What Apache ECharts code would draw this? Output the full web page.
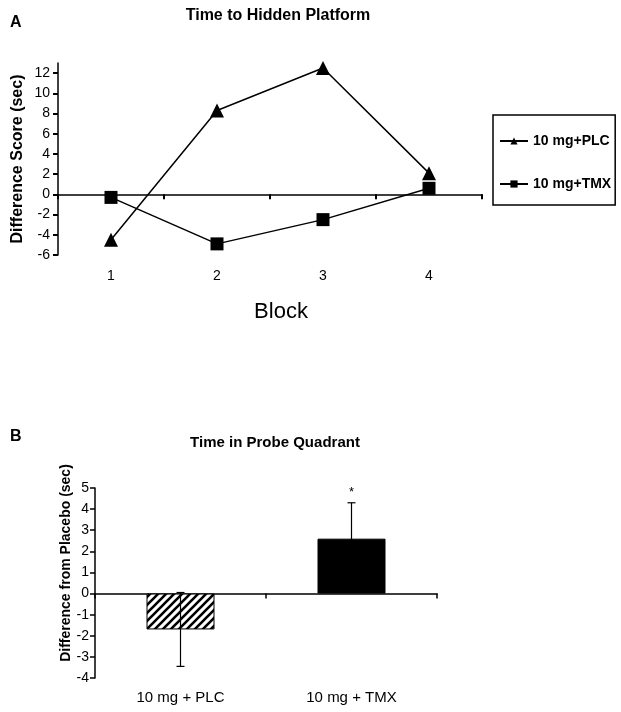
<!DOCTYPE html>
<html><head><meta charset="utf-8">
<script src="https://cdn.jsdelivr.net/npm/echarts@6/dist/echarts.min.js"></script>
<style>html,body{margin:0;padding:0;background:#fff}#c{width:621px;height:712px}</style>
</head><body><div id="c"></div>
<script>
// Panel A data
const blocks = ['1', '2', '3', '4'];
const plcScores = [-4.5, 8.3, 12.5, 2.1];
const tmxScores = [-0.3, -4.9, -2.5, 0.6];
const scoreTicks = [-6, -4, -2, 0, 2, 4, 6, 8, 10, 12];
// Panel B data
const groups = ['10 mg + PLC', '10 mg + TMX'];
const probeDiff = [-1.7, 2.6];
const probeErr = [1.75, 1.7];
const probeMarks = ['', '*'];
const probeTicks = [-4, -3, -2, -1, 0, 1, 2, 3, 4, 5];

const FONT = '"Liberation Sans", Arial, sans-serif';

function hatch() {
  const c = document.createElement('canvas');
  c.width = 8; c.height = 8;
  const g = c.getContext('2d');
  g.fillStyle = '#fff'; g.fillRect(0, 0, 8, 8);
  g.strokeStyle = '#000'; g.lineWidth = 2.6;
  g.beginPath();
  g.moveTo(-2, 10); g.lineTo(10, -2);
  g.moveTo(-4, 4); g.lineTo(4, -4);
  g.moveTo(4, 12); g.lineTo(12, 4);
  g.stroke();
  return c;
}

const chart = echarts.init(document.getElementById('c'), null, {renderer: 'canvas'});
const axisLine = {lineStyle: {color: '#000', width: 1.5}};
const tickLab = {color: '#000', fontFamily: FONT, fontSize: 14};

chart.setOption({
  backgroundColor: '#fff',
  animation: false,
  title: [
    {text: 'A', left: 5, top: 10, textStyle: {fontFamily: FONT, fontWeight: 'bold', fontSize: 16, color: '#000'}},
    {text: 'Time to Hidden Platform', left: 273, top: 3, textAlign: 'center', textStyle: {fontFamily: FONT, fontWeight: 'bold', fontSize: 16, color: '#000'}},
    {text: 'B', left: 5, top: 424, textStyle: {fontFamily: FONT, fontWeight: 'bold', fontSize: 16, color: '#000'}},
    {text: 'Time in Probe Quadrant', left: 270, top: 430, textAlign: 'center', textStyle: {fontFamily: FONT, fontWeight: 'bold', fontSize: 15, color: '#000'}}
  ],
  legend: {
    data: ['10 mg+PLC', '10 mg+TMX'],
    orient: 'vertical', left: 493, top: 115,
    borderColor: '#000', borderWidth: 1.5,
    padding: [19, 4, 14, 6], itemGap: 29, itemWidth: 28, itemHeight: 9,
    textStyle: {fontFamily: FONT, fontWeight: 'bold', fontSize: 14, color: '#000'}
  },
  grid: [
    {left: 58, top: 63, width: 424, height: 192},
    {left: 95, top: 488, width: 342, height: 190}
  ],
  xAxis: [
    {gridIndex: 0, type: 'category', data: blocks, position: 'bottom',
     axisLine: {show: false, onZero: false}, axisTick: {show: false},
     axisLabel: Object.assign({margin: 14}, tickLab),
     name: 'Block', nameLocation: 'middle', nameGap: 46,
     nameTextStyle: {fontFamily: FONT, fontSize: 22, color: '#000', padding: [0, 0, 0, 22]}},
    {gridIndex: 0, type: 'category', data: blocks, position: 'top',
     axisLine: Object.assign({onZero: true}, axisLine),
     axisTick: {show: true, inside: true, length: 5, lineStyle: {color: '#000', width: 2}},
     axisLabel: {show: false}},
    {gridIndex: 1, type: 'category', data: groups, position: 'bottom',
     axisLine: {show: false, onZero: false}, axisTick: {show: false},
     axisLabel: Object.assign({}, tickLab, {margin: 12, fontSize: 15})},
    {gridIndex: 1, type: 'category', data: groups, position: 'top',
     axisLine: Object.assign({onZero: true}, axisLine),
     axisTick: {show: true, inside: true, length: 5, lineStyle: {color: '#000', width: 1.5}},
     axisLabel: {show: false}}
  ],
  yAxis: [
    {gridIndex: 0, type: 'value', min: -6, max: 13, interval: 2,
     splitLine: {show: false},
     axisLine: Object.assign({show: true}, axisLine),
     axisTick: {show: true, length: 5, lineStyle: {color: '#000', width: 2}, customValues: scoreTicks},
     axisLabel: Object.assign({customValues: scoreTicks, margin: 8}, tickLab),
     name: 'Difference Score (sec)', nameLocation: 'middle', nameGap: 32, nameMoveOverlap: false,
     nameTextStyle: {fontFamily: FONT, fontWeight: 'bold', fontSize: 16, color: '#000'}},
    {gridIndex: 1, type: 'value', min: -4, max: 5, interval: 1,
     splitLine: {show: false},
     axisLine: Object.assign({show: true}, axisLine),
     axisTick: {show: true, length: 5, lineStyle: {color: '#000', width: 1.5}, customValues: probeTicks},
     axisLabel: Object.assign({customValues: probeTicks, margin: 6}, tickLab),
     name: 'Difference from Placebo (sec)', nameLocation: 'middle', nameGap: 22, nameMoveOverlap: false,
     nameTextStyle: {fontFamily: FONT, fontWeight: 'bold', fontSize: 14, color: '#000', padding: [0, 0, 0, 40]}}
  ],
  series: [
    {name: '10 mg+PLC', type: 'line', xAxisIndex: 0, yAxisIndex: 0, data: plcScores,
     symbol: 'triangle', symbolSize: 14,
     lineStyle: {color: '#000', width: 1.5}, itemStyle: {color: '#000'}},
    {name: '10 mg+TMX', type: 'line', xAxisIndex: 0, yAxisIndex: 0, data: tmxScores,
     symbol: 'rect', symbolSize: 13,
     lineStyle: {color: '#000', width: 1.5}, itemStyle: {color: '#000'}},
    {name: 'probe', type: 'bar', xAxisIndex: 2, yAxisIndex: 1, barWidth: 68,
     data: probeDiff.map((v, i) => ({
       value: v,
       itemStyle: i === 0
         ? {color: {image: hatch(), repeat: 'repeat'}, borderColor: '#000', borderWidth: 1}
         : {color: '#000', borderColor: '#000', borderWidth: 1}
     }))},
    {name: 'err', type: 'custom', xAxisIndex: 2, yAxisIndex: 1, z: 5,
     data: probeDiff.map((v, i) => [i, v, probeErr[i]]),
     renderItem: function (params, api) {
       const i = api.value(0), v = api.value(1), e = api.value(2);
       const hi = api.coord([i, v + e]);
       const lo = api.coord([i, v - e]);
       const cap = 4;
       const st = {stroke: '#000', lineWidth: 1.2};
       const children = [
         {type: 'line', shape: {x1: hi[0], y1: hi[1], x2: lo[0], y2: lo[1]}, style: st},
         {type: 'line', shape: {x1: hi[0] - cap, y1: hi[1], x2: hi[0] + cap, y2: hi[1]}, style: st},
         {type: 'line', shape: {x1: lo[0] - cap, y1: lo[1], x2: lo[0] + cap, y2: lo[1]}, style: st}
       ];
       const m = probeMarks[params.dataIndex];
       if (m) {
         children.push({type: 'text', x: hi[0], y: hi[1] - 4,
           style: {text: m, fill: '#000', fontSize: 13, fontFamily: FONT, align: 'center', verticalAlign: 'bottom'}});
       }
       return {type: 'group', children: children};
     }}
  ]
});
</script>
</body></html>
